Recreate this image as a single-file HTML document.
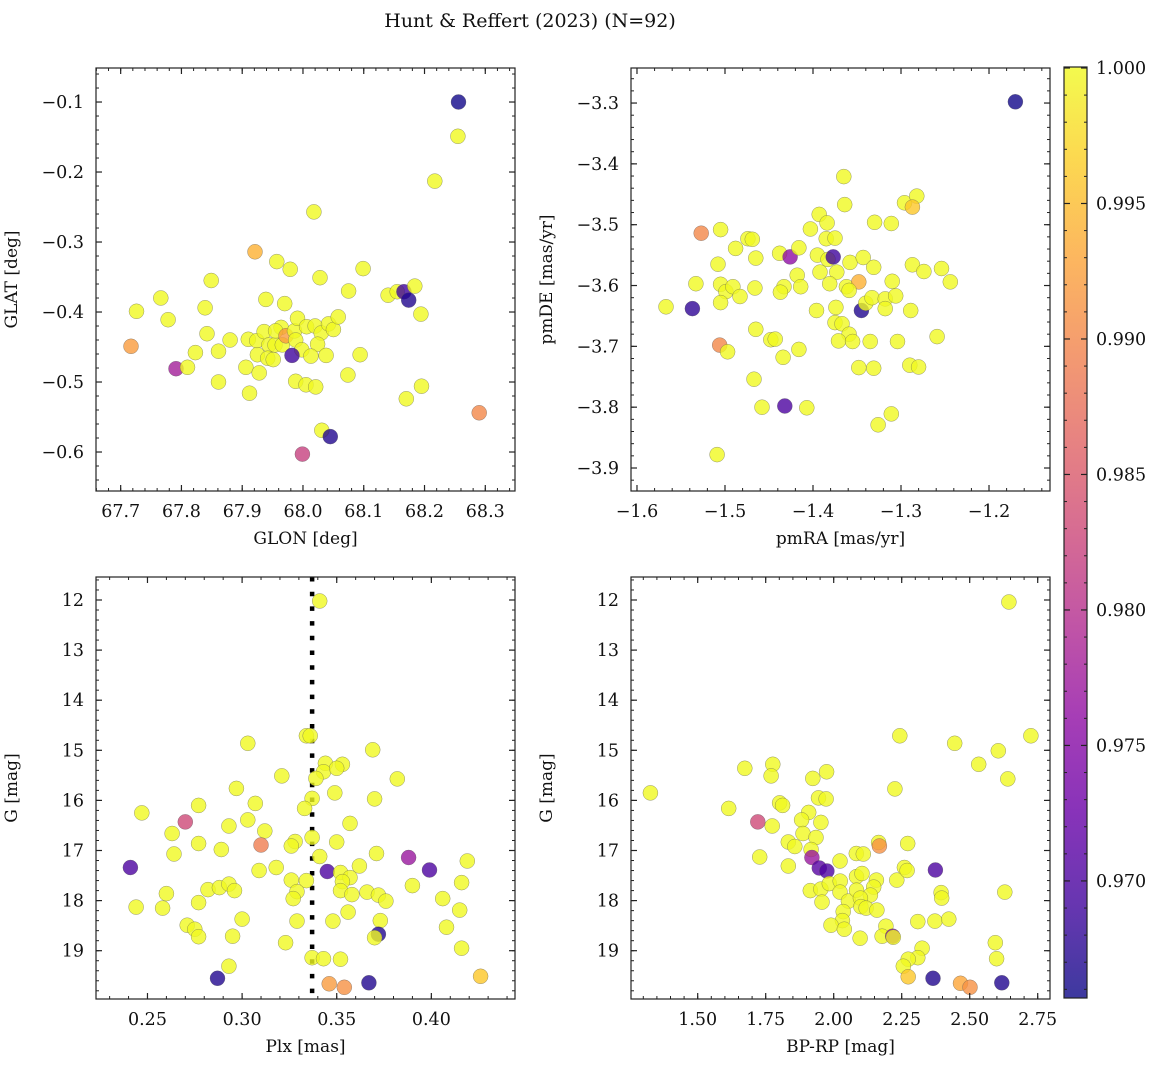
<!DOCTYPE html>
<html><head><meta charset="utf-8"><style>
html,body{margin:0;padding:0;background:#fff;}
svg text{font-family:"DejaVu Serif","Liberation Serif",serif;fill:#111;}
</style></head><body>
<svg id="fig" width="1161" height="1067" viewBox="0 0 1161 1067" xmlns="http://www.w3.org/2000/svg">
<rect width="1161" height="1067" fill="#fff"/>
<text x="530" y="27" font-size="19" text-anchor="middle">Hunt &amp; Reffert (2023) (N=92)</text>
<defs><linearGradient id="cbgrad" x1="0" y1="1" x2="0" y2="0">
<stop offset="0" stop-color="#0d0887"/><stop offset="0.1" stop-color="#41049d"/><stop offset="0.2" stop-color="#6a00a8"/><stop offset="0.3" stop-color="#8f0da4"/><stop offset="0.4" stop-color="#b12a90"/><stop offset="0.5" stop-color="#cc4778"/><stop offset="0.6" stop-color="#e16462"/><stop offset="0.7" stop-color="#f2844b"/><stop offset="0.8" stop-color="#fca636"/><stop offset="0.9" stop-color="#fcce25"/><stop offset="1" stop-color="#f0f921"/>
</linearGradient></defs>
</svg>
<script>
// ---- Panel 1: GLON vs GLAT ----
const p1Glon=[68.256,68.255,68.217,68.018,67.921,67.957,67.979,68.028,68.099,67.849,67.766,67.726,67.778,67.839,67.939,67.970,68.075,68.140,68.155,68.166,68.174,68.184,68.194,67.717,67.791,67.810,67.823,67.842,67.861,67.880,67.861,67.906,67.912,67.928,67.910,67.924,67.936,67.925,67.944,67.954,67.964,67.955,67.966,67.972,67.942,67.951,67.986,67.991,67.988,68.006,68.020,68.030,68.042,68.050,68.058,68.024,67.998,67.982,68.013,68.038,68.094,68.074,67.988,68.005,68.021,68.170,68.195,68.290,68.031,68.045,67.999];
const p1Glat=[-0.100,-0.149,-0.213,-0.257,-0.314,-0.328,-0.339,-0.351,-0.338,-0.355,-0.380,-0.399,-0.411,-0.394,-0.382,-0.388,-0.370,-0.376,-0.371,-0.371,-0.383,-0.363,-0.403,-0.449,-0.481,-0.479,-0.458,-0.431,-0.456,-0.440,-0.500,-0.479,-0.516,-0.487,-0.439,-0.441,-0.428,-0.461,-0.447,-0.447,-0.422,-0.427,-0.447,-0.434,-0.466,-0.468,-0.427,-0.409,-0.440,-0.421,-0.420,-0.430,-0.417,-0.425,-0.407,-0.446,-0.454,-0.462,-0.463,-0.462,-0.461,-0.490,-0.499,-0.504,-0.507,-0.524,-0.506,-0.544,-0.569,-0.578,-0.603];
const p1Prob=[0.966,1,1,1,0.994,1,1,1,1,1,1,1,1,1,1,1,1,1,1,0.969,0.967,1,1,0.992,0.978,1,1,1,1,1,1,1,1,1,1,1,1,1,1,1,1,1,1,0.992,1,1,1,1,1,1,1,1,1,1,1,1,1,0.969,1,1,1,1,1,1,1,1,1,0.990,1,0.967,0.982];
const p1XTicks=[67.7,67.8,67.9,68.0,68.1,68.2,68.3];
const p1XLabels=["67.7","67.8","67.9","68.0","68.1","68.2","68.3"];
const p1YTicks=[-0.1,-0.2,-0.3,-0.4,-0.5,-0.6];
const p1YLabels=["−0.1","−0.2","−0.3","−0.4","−0.5","−0.6"];

// ---- Panel 2: pmRA vs pmDE ----
const p2Pmra=[-1.170,-1.365,-1.364,-1.393,-1.384,-1.403,-1.385,-1.375,-1.330,-1.311,-1.296,-1.282,-1.287,-1.527,-1.505,-1.488,-1.474,-1.469,-1.465,-1.508,-1.533,-1.567,-1.537,-1.505,-1.499,-1.491,-1.505,-1.483,-1.466,-1.438,-1.426,-1.416,-1.433,-1.437,-1.418,-1.414,-1.395,-1.383,-1.377,-1.392,-1.373,-1.381,-1.358,-1.343,-1.331,-1.362,-1.348,-1.359,-1.396,-1.374,-1.345,-1.340,-1.333,-1.318,-1.318,-1.306,-1.310,-1.287,-1.274,-1.254,-1.244,-1.289,-1.259,-1.375,-1.367,-1.359,-1.371,-1.355,-1.335,-1.304,-1.465,-1.448,-1.443,-1.506,-1.497,-1.434,-1.416,-1.348,-1.331,-1.290,-1.280,-1.467,-1.458,-1.432,-1.407,-1.311,-1.326,-1.509];
const p2Pmde=[-3.298,-3.421,-3.467,-3.483,-3.497,-3.507,-3.523,-3.522,-3.496,-3.498,-3.464,-3.453,-3.471,-3.514,-3.508,-3.539,-3.523,-3.524,-3.555,-3.565,-3.597,-3.635,-3.638,-3.598,-3.610,-3.602,-3.628,-3.618,-3.604,-3.547,-3.553,-3.538,-3.602,-3.611,-3.583,-3.602,-3.550,-3.557,-3.553,-3.578,-3.578,-3.597,-3.562,-3.554,-3.570,-3.602,-3.594,-3.608,-3.641,-3.636,-3.641,-3.629,-3.620,-3.622,-3.638,-3.617,-3.593,-3.566,-3.577,-3.572,-3.594,-3.641,-3.684,-3.661,-3.663,-3.680,-3.691,-3.692,-3.692,-3.692,-3.672,-3.689,-3.688,-3.698,-3.709,-3.718,-3.705,-3.735,-3.736,-3.731,-3.734,-3.754,-3.800,-3.798,-3.801,-3.811,-3.829,-3.878];
const p2Prob=[0.966,1,1,1,1,1,1,1,1,1,1,1,0.996,0.990,1,1,1,1,1,1,1,1,0.968,1,1,1,1,1,1,1,0.976,1,1,1,1,1,1,1,0.969,1,1,1,1,1,1,1,0.994,1,1,1,0.967,1,1,1,1,1,1,1,1,1,1,1,1,1,1,1,1,1,1,1,1,1,1,0.990,1,1,1,1,1,1,1,1,1,0.970,1,1,1,1];
const p2XTicks=[-1.6,-1.5,-1.4,-1.3,-1.2];
const p2XLabels=["−1.6","−1.5","−1.4","−1.3","−1.2"];
const p2YTicks=[-3.3,-3.4,-3.5,-3.6,-3.7,-3.8,-3.9];
const p2YLabels=["−3.3","−3.4","−3.5","−3.6","−3.7","−3.8","−3.9"];

// ---- Panel 3: Plx vs G ----
const p3Plx=[0.341,0.334,0.336,0.303,0.369,0.344,0.353,0.343,0.350,0.339,0.321,0.382,0.297,0.349,0.337,0.370,0.307,0.277,0.333,0.247,0.270,0.303,0.293,0.357,0.312,0.263,0.328,0.326,0.337,0.277,0.310,0.289,0.350,0.264,0.341,0.371,0.388,0.419,0.241,0.309,0.318,0.345,0.399,0.362,0.352,0.357,0.353,0.326,0.334,0.416,0.390,0.282,0.288,0.293,0.296,0.260,0.329,0.327,0.352,0.358,0.366,0.372,0.376,0.406,0.244,0.258,0.277,0.356,0.415,0.300,0.329,0.348,0.373,0.408,0.271,0.275,0.277,0.295,0.372,0.370,0.323,0.416,0.337,0.343,0.352,0.293,0.287,0.346,0.354,0.367,0.426];
const p3G=[12.02,14.71,14.71,14.86,14.99,15.26,15.28,15.43,15.36,15.56,15.51,15.57,15.76,15.85,15.96,15.97,16.06,16.10,16.16,16.25,16.43,16.39,16.51,16.46,16.61,16.66,16.82,16.91,16.74,16.86,16.89,16.98,16.83,17.07,17.12,17.06,17.14,17.21,17.34,17.40,17.34,17.42,17.39,17.31,17.44,17.54,17.62,17.59,17.60,17.64,17.70,17.78,17.74,17.67,17.80,17.86,17.82,17.96,17.80,17.88,17.83,17.89,18.01,17.96,18.13,18.15,18.04,18.23,18.19,18.37,18.41,18.41,18.40,18.53,18.49,18.57,18.72,18.71,18.67,18.74,18.84,18.95,19.14,19.16,19.17,19.31,19.55,19.66,19.73,19.64,19.51];
const p3Prob=[1,1,1,1,1,1,1,1,1,1,1,1,1,1,1,1,1,1,1,1,0.983,1,1,1,1,1,1,1,1,1,0.989,1,1,1,1,1,0.977,1,0.970,1,1,0.970,0.970,1,1,1,1,1,1,1,1,1,1,1,1,1,1,1,1,1,1,1,1,1,1,1,1,1,1,1,1,1,1,1,1,1,1,1,0.967,1,1,1,1,1,1,1,0.967,0.992,0.991,0.967,0.996];
const p3Ref=[0.337];
const p3XTicks=[0.25,0.30,0.35,0.40];
const p3XLabels=["0.25","0.30","0.35","0.40"];
const gTicks=[12,13,14,15,16,17,18,19];
const gLabels=["12","13","14","15","16","17","18","19"];

// ---- Panel 4: BP-RP vs G ----
const p4Bprp=[1.326,1.614,1.673,1.776,1.770,1.801,1.812,1.721,1.774,1.728,1.833,1.857,1.833,1.923,1.974,1.944,1.972,1.908,1.882,1.953,1.887,1.935,1.917,1.920,1.947,1.975,2.023,1.914,1.953,1.984,2.024,2.023,1.957,2.054,2.083,2.109,2.165,2.168,2.084,2.104,2.157,2.147,2.084,2.135,2.098,2.100,2.119,2.159,2.035,2.032,1.990,2.039,2.097,2.192,2.178,2.217,2.219,2.232,2.260,2.270,2.272,2.225,2.243,2.374,2.395,2.397,2.309,2.372,2.423,2.325,2.309,2.274,2.256,2.274,2.365,2.466,2.501,2.618,2.445,2.533,2.605,2.640,2.725,2.629,2.594,2.599,2.644];
const p4G=[15.85,16.16,15.36,15.28,15.51,16.05,16.10,16.43,16.51,17.13,16.83,16.92,17.31,15.56,15.43,15.95,15.97,16.24,16.39,16.44,16.66,16.74,16.98,17.14,17.35,17.41,17.21,17.80,17.77,17.66,17.61,17.83,18.03,18.01,17.06,17.07,16.84,16.91,17.52,17.46,17.59,17.73,17.79,17.89,17.95,18.12,18.15,18.19,18.22,18.40,18.49,18.57,18.75,18.51,18.71,18.71,18.73,17.59,17.34,17.40,16.86,15.77,14.71,17.39,17.84,17.95,18.42,18.41,18.37,18.95,19.14,19.17,19.31,19.52,19.55,19.65,19.73,19.64,14.86,15.28,15.01,15.57,14.71,17.83,18.84,19.16,12.04];
const p4Prob=[1,1,1,1,1,1,1,0.983,1,1,1,1,1,1,1,1,1,1,1,1,1,1,1,0.977,0.971,0.970,1,1,1,1,1,1,1,1,1,1,1,0.991,1,1,1,1,1,1,1,1,1,1,1,1,1,1,1,1,1,0.975,1,1,1,1,1,1,1,0.970,1,1,1,1,1,1,1,1,1,0.996,0.967,0.993,0.991,0.967,1,1,1,1,1,1,1,1,1];
const p4XTicks=[1.50,1.75,2.00,2.25,2.50,2.75];
const p4XLabels=["1.50","1.75","2.00","2.25","2.50","2.75"];

// ---- Colorbar ----
const cbTicks=[1.000,0.995,0.990,0.985,0.980,0.975,0.970];
const cbLabels=["1.000","0.995","0.990","0.985","0.980","0.975","0.970"];
const cbMin=0.96568, cbMax=1.0;

const NS="http://www.w3.org/2000/svg";
const svg=document.getElementById('fig');
const stops=[[13,8,135],[65,4,157],[106,0,168],[143,13,164],[177,42,144],[204,71,120],[225,100,98],[242,132,75],[252,166,54],[252,206,37],[240,249,33]];
function plasma(t){t=Math.max(0,Math.min(1,t));const f=t*10;const i=Math.min(9,Math.floor(f));const u=f-i;const a=stops[i],b=stops[i+1];
return 'rgb('+a.map((v,k)=>Math.round(v+(b[k]-v)*u)).join(',')+')';}
function mk(tag,attrs,parent){const e=document.createElementNS(NS,tag);for(const k in attrs)e.setAttribute(k,attrs[k]);(parent||svg).appendChild(e);return e;}
function lin(d0,d1,r0,r1){return v=>r0+(v-d0)/(d1-d0)*(r1-r0);}

function panel(name,box,xd,yd,xs,ys,ps,xT,xL,yT,yL,xMinor,yMinor,xTitle,yTitle,extra){
  const g=mk('g',{});
  
  
  const X=lin(xd[0],xd[1],box.x0,box.x1), Y=lin(yd[0],yd[1],box.y0,box.y1);
  if(extra)extra(g,X,Y,box);
  for(let i=0;i<xs.length;i++){
    const c=mk('circle',{cx:X(xs[i]).toFixed(1),cy:Y(ys[i]).toFixed(1),r:7.5,fill:plasma((ps[i]-cbMin)/(cbMax-cbMin)),'fill-opacity':0.8,stroke:'#555','stroke-opacity':0.6,'stroke-width':0.5},g);
    
    
  }
  const fr=mk('rect',{x:box.x0,y:box.y0,width:box.x1-box.x0,height:box.y1-box.y0,fill:'none',stroke:'#222','stroke-width':1.2},g);
  
  
  const lo=Math.min(xd[0],xd[1]),hi=Math.max(xd[0],xd[1]);
  for(let v=Math.ceil(lo/xMinor)*xMinor;v<=hi;v+=xMinor){const px=X(v);
    mk('line',{x1:px,x2:px,y1:box.y1,y2:box.y1-3,stroke:'#222','stroke-width':1},g);
    mk('line',{x1:px,x2:px,y1:box.y0,y2:box.y0+3,stroke:'#222','stroke-width':1},g);}
  const ylo=Math.min(yd[0],yd[1]),yhi=Math.max(yd[0],yd[1]);
  for(let v=Math.ceil(ylo/yMinor)*yMinor;v<=yhi;v+=yMinor){const py=Y(v);
    mk('line',{x1:box.x0,x2:box.x0+3,y1:py,y2:py,stroke:'#222','stroke-width':1},g);
    mk('line',{x1:box.x1,x2:box.x1-3,y1:py,y2:py,stroke:'#222','stroke-width':1},g);}
  xT.forEach((v,i)=>{const px=X(v);
    mk('line',{x1:px,x2:px,y1:box.y1,y2:box.y1-6,stroke:'#222','stroke-width':1.2},g);
    mk('line',{x1:px,x2:px,y1:box.y0,y2:box.y0+6,stroke:'#222','stroke-width':1.2},g);
    const t=mk('text',{x:px,y:box.y1+26,'font-size':17.5,'text-anchor':'middle'},g);t.textContent=xL[i];
    
    });
  yT.forEach((v,i)=>{const py=Y(v);
    mk('line',{x1:box.x0,x2:box.x0+6,y1:py,y2:py,stroke:'#222','stroke-width':1.2},g);
    mk('line',{x1:box.x1,x2:box.x1-6,y1:py,y2:py,stroke:'#222','stroke-width':1.2},g);
    const t=mk('text',{x:box.x0-12,y:py+6,'font-size':17.5,'text-anchor':'end'},g);t.textContent=yL[i];
    
    });
  const xt=mk('text',{x:(box.x0+box.x1)/2,y:box.y1+53,'font-size':17,'text-anchor':'middle'},g);xt.textContent=xTitle;
  
  
  const yx=box.x0-79, yy=(box.y0+box.y1)/2;
  const yt=mk('text',{x:yx,y:yy,'font-size':17,'text-anchor':'middle',transform:'rotate(-90 '+yx+' '+yy+')'},g);yt.textContent=yTitle;
  
  
}

panel('panel-glon-glat',{x0:96,x1:515,y0:68,y1:491},[67.6594,68.3489],[-0.0514,-0.6557],p1Glon,p1Glat,p1Prob,p1XTicks,p1XLabels,p1YTicks,p1YLabels,0.02,0.02,'GLON [deg]','GLAT [deg]');
panel('panel-pm',{x0:631,x1:1050,y0:68,y1:491},[-1.6068,-1.1307],[-3.2424,-3.9378],p2Pmra,p2Pmde,p2Prob,p2XTicks,p2XLabels,p2YTicks,p2YLabels,0.02,0.02,'pmRA [mas/yr]','pmDE [mas/yr]');
panel('panel-plx-g',{x0:96,x1:515,y0:577,y1:999},[0.2228,0.4442],[11.541,19.964],p3Plx,p3G,p3Prob,p3XTicks,p3XLabels,gTicks,gLabels,0.01,0.2,'Plx [mas]','G [mag]',
  (g,X,Y,box)=>{const l=mk('line',{x1:X(p3Ref[0]),x2:X(p3Ref[0]),y1:box.y0,y2:box.y1,stroke:'#000','stroke-width':4.5,'stroke-dasharray':'4.5 10.2'},g);
   
   });
panel('panel-cmd',{x0:631,x1:1050,y0:577,y1:999},[1.2548,2.7952],[11.541,19.964],p4Bprp,p4G,p4Prob,p4XTicks,p4XLabels,gTicks,gLabels,0.05,0.2,'BP-RP [mag]','G [mag]');

const cb=mk('g',{});


const CY=lin(cbMin,1.0,998,68);
const cr=mk('rect',{x:1064,y:67,width:23,height:931,fill:'url(#cbgrad)','fill-opacity':0.8},cb);


mk('rect',{x:1064,y:67,width:23,height:931,fill:'none',stroke:'#222','stroke-width':1.2},cb);
for(let v=0.966;v<=0.9995;v+=0.001){const py=CY(v);
  mk('line',{x1:1064,x2:1067,y1:py,y2:py,stroke:'#222','stroke-width':1},cb);
  mk('line',{x1:1087,x2:1084,y1:py,y2:py,stroke:'#222','stroke-width':1},cb);}
cbTicks.forEach((v,i)=>{const py=CY(v);
  mk('line',{x1:1064,x2:1070,y1:py,y2:py,stroke:'#222','stroke-width':1.2},cb);
  mk('line',{x1:1087,x2:1081,y1:py,y2:py,stroke:'#222','stroke-width':1.2},cb);
  const t=mk('text',{x:1096,y:py+6,'font-size':17.5},cb);t.textContent=cbLabels[i];
  
  });
</script>
</body></html>
